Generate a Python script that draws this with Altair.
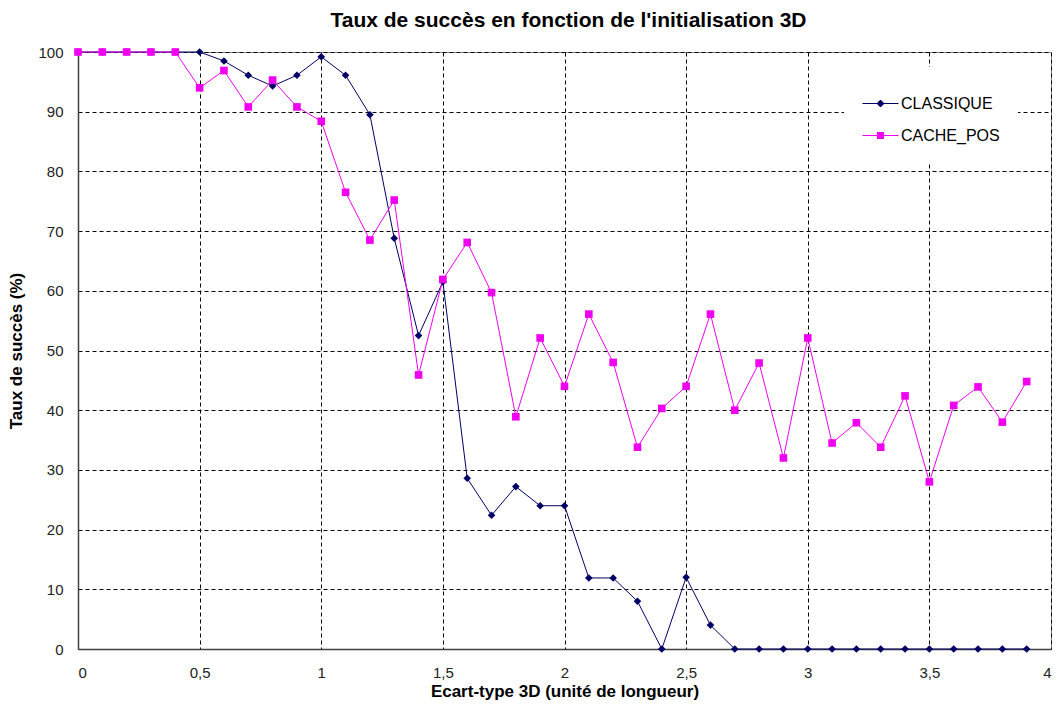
import altair as alt
import pandas as pd

x_values = [0, 0.1, 0.2, 0.3, 0.4, 0.5, 0.6, 0.7, 0.8, 0.9,
            1.0, 1.1, 1.2, 1.3, 1.4, 1.5, 1.6, 1.7, 1.8, 1.9,
            2.0, 2.1, 2.2, 2.3, 2.4, 2.5, 2.6, 2.7, 2.8, 2.9,
            3.0, 3.1, 3.2, 3.3, 3.4, 3.5, 3.6, 3.7, 3.8, 3.9]

classique = [100, 100, 100, 100, 100, 100, 98.5, 96.1, 94.3, 96.1,
             99.2, 96.1, 89.5, 68.8, 52.5, 61.5, 28.6, 22.4, 27.2, 24,
             24, 11.9, 11.9, 8, 0, 12, 4, 0, 0, 0,
             0, 0, 0, 0, 0, 0, 0, 0, 0, 0]

cache_pos = [100, 100, 100, 100, 100, 94, 96.9, 90.8, 95.3, 90.8,
             88.4, 76.5, 68.5, 75.2, 45.9, 61.9, 68.1, 59.7, 38.9, 52.1,
             44, 56.1, 48, 33.8, 40.3, 44, 56.1, 40, 47.9, 32,
             52.1, 34.5, 37.9, 33.8, 42.4, 28, 40.8, 43.9, 38, 44.8]

series_names = ["CLASSIQUE", "CACHE_POS"]
series_colors = ["#000066", "#F000F0"]
series_shapes = ["diamond", "square"]

x_ticks = [0, 0.5, 1, 1.5, 2, 2.5, 3, 3.5, 4]
y_ticks = [0, 10, 20, 30, 40, 50, 60, 70, 80, 90, 100]


# legend symbols: a line with the marker in its middle, drawn with strokes only
# (symbol path units: 1 unit = 18 px for a 36 px long line)
def _u(px):
    return round(px / 18.0, 4)


def legend_path(half_widths):
    parts = ["M-1,0H1"]
    for k, hw in half_widths:
        parts.append(f"M{-_u(hw)},{_u(k)}H{_u(hw)}")
    return "".join(parts)


diamond_rows = [(k, 4 - abs(k)) for k in (-3, -2, -1, 0, 1, 2, 3)]
square_rows = [(k, 3.5) for k in (-3, -2, -1, 0, 1, 2, 3)]
legend_shapes = [legend_path(diamond_rows), legend_path(square_rows)]

rows = []
for name, vals in zip(series_names, [classique, cache_pos]):
    for xv, yv in zip(x_values, vals):
        rows.append({"x": xv, "y": yv, "serie": name})
df = pd.DataFrame(rows)

FONT = "Liberation Sans"

x_enc = alt.X("x:Q",
              scale=alt.Scale(domain=[0, 4], nice=False, zero=False),
              axis=alt.Axis(values=x_ticks,
                            labelExpr="replace(toString(datum.value), '.', ',')",
                            title="Ecart-type 3D (unité de longueur)",
                            titleFontWeight="bold", titleFontSize=17,
                            titlePadding=3,
                            labelPadding=16, labelFontSize=15))
y_enc = alt.Y("y:Q",
              scale=alt.Scale(domain=[0, 100], nice=False),
              axis=alt.Axis(values=y_ticks, title="Taux de succès (%)",
                            titleFontWeight="bold", titleFontSize=17,
                            titlePadding=12,
                            labelPadding=15, labelFontSize=15))

color_scale = alt.Scale(domain=series_names, range=series_colors)

lines = alt.Chart(df).mark_line(strokeWidth=1).encode(
    x=x_enc, y=y_enc,
    color=alt.Color("serie:N", scale=color_scale, legend=None),
)

points = alt.Chart(df).mark_point(filled=True, size=58, opacity=1).encode(
    x=x_enc, y=y_enc,
    color=alt.Color("serie:N", scale=color_scale, legend=None),
    shape=alt.Shape("serie:N", scale=alt.Scale(domain=series_names, range=series_shapes),
                    legend=None),
)

leg = alt.Legend(title=None, orient="none", legendX=766, legendY=15,
                 symbolSize=1296, symbolStrokeWidth=1, symbolOpacity=1,
                 labelOffset=2, labelFontSize=16, labelFont=FONT,
                 labelColor="#000", rowPadding=5, padding=18,
                 fillColor="white")

legend_layer = alt.Chart(df).transform_filter("false").mark_point(
    filled=False, opacity=1, strokeWidth=1
).encode(
    x=x_enc, y=y_enc,
    stroke=alt.Stroke("serie:N", scale=color_scale, legend=leg),
    shape=alt.Shape("serie:N", scale=alt.Scale(domain=series_names, range=legend_shapes),
                    legend=leg),
)

chart = alt.layer(lines, points, legend_layer).resolve_scale(
    shape="independent", stroke="independent"
).properties(
    width=973, height=597,
    title=alt.TitleParams("Taux de succès en fonction de l'initialisation 3D",
                          fontSize=21, fontWeight="bold", font=FONT,
                          anchor="middle", offset=14, dx=4, color="#000"),
    autosize=alt.AutoSizeParams(type="none"),
    padding={"left": 70, "top": 44, "right": 4, "bottom": 53},
).configure_view(
    stroke="#8c8c8c", strokeWidth=1
).configure_axis(
    grid=True, gridColor="#000", gridDash=[4, 3], gridWidth=1, gridOpacity=1,
    ticks=False, domainColor="#404040", domainWidth=1.5,
    labelFont=FONT, titleFont=FONT, labelColor="#222", titleColor="#000",
)

chart.save("out.html", embed_options={"renderer": "svg", "actions": False})
